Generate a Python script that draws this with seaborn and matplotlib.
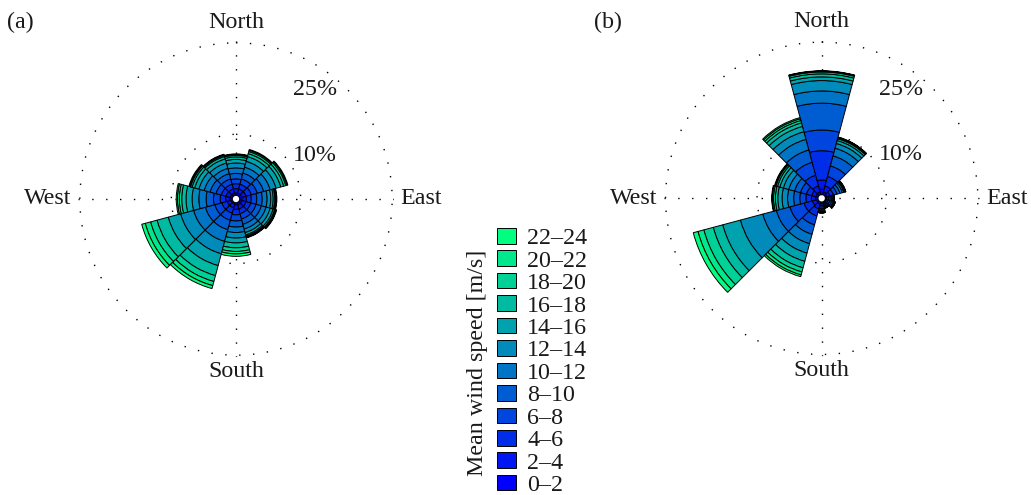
import numpy as np
import matplotlib
matplotlib.use("Agg")
import matplotlib.pyplot as plt
from matplotlib.patches import Patch
import seaborn as sns

# Sector centres (compass bearing, degrees) and wind-speed classes
directions = [0, 30, 60, 90, 120, 150, 180, 210, 240, 270, 300, 330]
speed_bins = ["0–2", "2–4", "4–6", "6–8", "8–10", "10–12",
              "12–14", "14–16", "16–18", "18–20", "20–22", "22–24"]
compass_labels = ["North", "East", "South", "West"]
compass_angles = [0, 90, 180, 270]
ring_levels = [10, 25]
ring_labels = ["10%", "25%"]
panel_labels = ["(a)", "(b)"]

# Frequency of occurrence (%) : one row per direction, one column per speed class
freq_a = [
    [0.4, 0.7, 0.8, 0.8, 0.9, 0.9, 0.8, 0.6, 0.4, 0.25, 0.15, 0.1],    # N
    [0.4, 0.7, 0.8, 0.9, 1.0, 1.0, 1.0, 0.8, 0.5, 0.35, 0.2, 0.15],    # 30
    [0.4, 0.7, 0.9, 1.0, 1.1, 1.1, 1.0, 0.8, 0.5, 0.35, 0.2, 0.15],    # 60
    [0.4, 0.7, 0.8, 0.9, 0.9, 0.8, 0.6, 0.4, 0.25, 0.15, 0.1, 0.1],    # E
    [0.4, 0.7, 0.8, 0.9, 0.9, 0.8, 0.7, 0.5, 0.25, 0.15, 0.1, 0.1],    # 120
    [0.4, 0.7, 0.8, 0.9, 0.9, 0.8, 0.6, 0.4, 0.2, 0.12, 0.1, 0.08],    # 150
    [0.4, 0.7, 0.9, 1.0, 1.0, 0.9, 0.9, 0.8, 0.8, 0.6, 0.4, 0.4],      # S
    [0.3, 0.6, 0.9, 1.2, 1.6, 2.0, 2.1, 2.0, 1.7, 1.0, 0.7, 0.5],      # 210
    [0.3, 0.6, 0.9, 1.2, 1.6, 2.0, 2.2, 2.1, 1.9, 1.1, 0.9, 0.6],      # 240
    [0.4, 0.7, 0.9, 1.1, 1.2, 1.2, 1.1, 1.0, 0.7, 0.4, 0.3, 0.2],      # W
    [0.4, 0.7, 0.8, 0.9, 1.0, 1.0, 0.9, 0.7, 0.45, 0.25, 0.15, 0.15],  # 300
    [0.4, 0.7, 0.8, 0.9, 0.9, 0.9, 0.9, 0.7, 0.4, 0.2, 0.1, 0.1],      # 330
]

freq_b = [
    [0.9, 1.5, 4.8, 3.4, 4.4, 2.0, 1.7, 0.6, 0.5, 0.3, 0.15, 0.05],    # N
    [0.5, 1.0, 1.6, 1.8, 1.7, 1.3, 0.8, 0.5, 0.3, 0.15, 0.1, 0.05],    # 30
    [0.3, 0.5, 0.6, 0.6, 0.5, 0.4, 0.25, 0.15, 0.1, 0.05, 0.03, 0.02], # 60
    [0.2, 0.3, 0.3, 0.25, 0.2, 0.1, 0.06, 0.04, 0.02, 0.01, 0.01, 0.01],  # E
    [0.2, 0.3, 0.3, 0.3, 0.25, 0.15, 0.1, 0.05, 0.02, 0.01, 0.01, 0.01],  # 120
    [0.15, 0.2, 0.2, 0.2, 0.15, 0.1, 0.05, 0.02, 0.01, 0.01, 0.005, 0.005],  # 150
    [0.15, 0.2, 0.25, 0.25, 0.25, 0.2, 0.2, 0.15, 0.1, 0.03, 0.01, 0.01],  # S
    [0.4, 0.8, 1.2, 1.5, 1.6, 1.6, 1.6, 1.4, 1.1, 0.7, 0.5, 0.3],      # 210
    [0.3, 0.7, 1.4, 2.4, 2.3, 2.3, 3.8, 3.0, 1.6, 1.6, 1.0, 0.8],      # 240
    [0.4, 0.7, 0.9, 1.0, 1.0, 1.0, 0.9, 0.7, 0.4, 0.3, 0.2, 0.1],      # W
    [0.4, 0.7, 0.9, 1.0, 1.0, 1.0, 0.9, 0.6, 0.4, 0.25, 0.15, 0.1],    # 300
    [0.5, 1.0, 1.8, 2.2, 2.1, 1.8, 1.3, 0.9, 0.6, 0.4, 0.3, 0.2],      # 330
]

sns.set_style("white")
plt.rcParams["font.family"] = ["Liberation Serif", "DejaVu Serif"]
plt.rcParams["text.color"] = "#1a1a1a"

FS = 17.3
winter = sns.color_palette("winter", as_cmap=True)
colors = [winter(v) for v in np.linspace(0, 1, len(speed_bins))]

W, H = 1031, 495
fig = plt.figure(figsize=(W / 100, H / 100), dpi=100)

R_MAX = 25.3
HOLE = 0.6
R_PX = 158.0  # pixel radius of the plotting area

# radial positions (in %) of the compass words around the outer ring
compass_r = [28.4, 29.8, 27.7, 30.2]


def draw_rose(center, freq, label, label_xy):
    cx, cy = center
    ax = fig.add_axes([(cx - R_PX) / W, (H - cy - R_PX) / H,
                       2 * R_PX / W, 2 * R_PX / H], projection="polar")
    ax.set_theta_zero_location("N")
    ax.set_theta_direction(-1)
    ax.set_facecolor("white")

    freq = np.asarray(freq, dtype=float)
    theta = np.deg2rad(directions)
    width = 2 * np.pi / len(directions)
    bottom = np.zeros(len(directions))
    for j in range(freq.shape[1]):
        ax.bar(theta, freq[:, j], width=width, bottom=bottom,
               color=colors[j], edgecolor="black", linewidth=0.7,
               align="center", zorder=3)
        bottom += freq[:, j]

    ax.set_ylim(0, R_MAX)
    ax.set_rorigin(-HOLE)
    ax.set_xticks(np.deg2rad(compass_angles))
    ax.set_xticklabels([])
    ax.set_yticks(ring_levels)
    ax.set_yticklabels([])
    ax.grid(True, color="black", linestyle=(0, (1, 9)), linewidth=1.0)
    ax.set_axisbelow(True)
    ax.spines["polar"].set_visible(False)

    for ang, name, rr in zip(compass_angles, compass_labels, compass_r):
        ax.text(np.deg2rad(ang), rr, name, ha="center", va="center",
                fontsize=FS, clip_on=False)

    # ring annotations
    ax.text(np.deg2rad(61), 14.15, ring_labels[0], ha="center", va="center",
            fontsize=FS, zorder=5)
    ax.text(np.deg2rad(36), 21.5, ring_labels[1], ha="center", va="center",
            fontsize=FS, zorder=5)

    fig.text(label_xy[0] / W, 1 - label_xy[1] / H, label,
             ha="center", va="center", fontsize=FS)
    return ax


draw_rose((236, 199), freq_a, panel_labels[0], (20, 22))
draw_rose((821.7, 198.3), freq_b, panel_labels[1], (608, 22))

# Speed-class legend (highest class on top)
handles = [Patch(facecolor=c, edgecolor="black", linewidth=0.7) for c in colors][::-1]
fig.legend(handles, speed_bins[::-1], loc="upper left",
           bbox_to_anchor=(497 / W, 1 - 228 / H), frameon=False,
           fontsize=FS, handlelength=0.8, handleheight=0.62,
           handletextpad=0.45, labelspacing=0.05, borderpad=0,
           borderaxespad=0)
fig.text(478 / W, 1 - 363 / H, "Mean wind speed [m/s]", rotation=90,
         ha="center", va="center", fontsize=FS)

fig.savefig("out.png", dpi=100)
